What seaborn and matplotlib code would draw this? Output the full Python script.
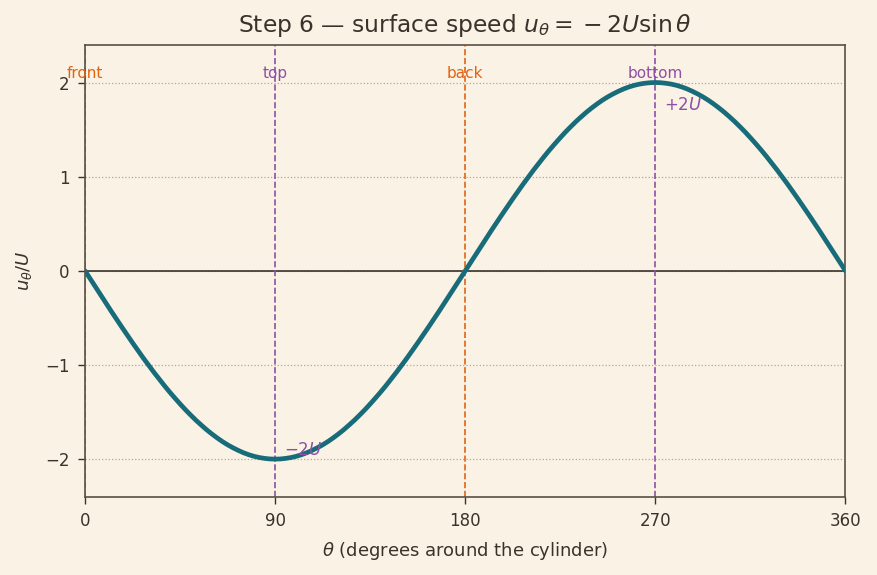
import numpy as np
import pandas as pd
import matplotlib
matplotlib.use("Agg")
import matplotlib.pyplot as plt
import seaborn as sns

# surface speed, every 2.5 degrees
theta = [i * 2.5 for i in range(145)]
quarter = [0.000, 0.087, 0.174, 0.261, 0.347, 0.433, 0.518, 0.601, 0.684,
           0.765, 0.845, 0.924, 1.000, 1.075, 1.147, 1.218, 1.286, 1.351,
           1.414, 1.475, 1.532, 1.587, 1.638, 1.687, 1.732, 1.774, 1.813,
           1.848, 1.879, 1.907, 1.932, 1.953, 1.970, 1.983, 1.992, 1.998,
           2.000]
u_over_U = ([-v for v in quarter] + [-v for v in quarter[-2::-1]]
            + quarter[1:] + quarter[-2::-1])

# reference positions on the cylinder
marker_theta = [0, 90, 180, 270]
marker_names = ["front", "top", "back", "bottom"]
marker_colors = ["#e06414", "#8e4fa6", "#e06414", "#8e4fa6"]

# extreme labels
extreme_theta = [90, 270]
extreme_vals = [-2, 2]
extreme_text = [r"$-2U$", r"$+2U$"]

bg = "#faf2e4"
ink = "#3b332b"
curve = "#186c7a"

sns.set_theme(style="white")
plt.rcParams.update({
    "figure.facecolor": bg, "axes.facecolor": bg, "savefig.facecolor": bg,
    "text.color": ink, "axes.labelcolor": ink, "xtick.color": ink,
    "ytick.color": ink, "axes.edgecolor": "#5a4f44",
})
plt.rcParams["font.family"] = ["DejaVu Sans"]

fig, ax = plt.subplots(figsize=(8.77, 5.75), dpi=100)

df = pd.DataFrame({"theta": theta, "u": u_over_U})
ax.axhline(0, color=ink, lw=1.2, zorder=1)
for t, n, c in zip(marker_theta, marker_names, marker_colors):
    ax.axvline(t, color=c, ls="--", lw=1.2, zorder=1)
    ax.text(t, 2.02, n, color=c, ha="center", va="bottom", fontsize=11)

sns.lineplot(data=df, x="theta", y="u", color=curve, lw=3.4, ax=ax, zorder=3)

for t, v, s in zip(extreme_theta, extreme_vals, extreme_text):
    ax.text(t + 4, v * 0.88 if v > 0 else v * 0.95, s, color="#8e4fa6",
            ha="left", va="center", fontsize=12)

ax.set_xlim(0, 360)
ax.set_ylim(-2.4, 2.4)
ax.set_xticks([0, 90, 180, 270, 360])
ax.set_yticks([-2, -1, 0, 1, 2])
ax.set_yticklabels(["\u22122", "\u22121", "0", "1", "2"])
ax.yaxis.grid(True, ls=":", color="#b0a898", lw=0.9)
ax.tick_params(axis="both", labelsize=12, length=5, width=1, pad=6,
               colors=ink, bottom=True, left=True)
for sp in ax.spines.values():
    sp.set_linewidth(1.2)

ax.set_xlabel(r"$\theta$ (degrees around the cylinder)", fontsize=13,
              labelpad=7)
ax.set_ylabel(r"$u_\theta/U$", fontsize=13, labelpad=8)
ax.set_title(r"Step 6 — surface speed $u_\theta = {}-2U\sin\theta$",
             fontsize=16.8, pad=9)

fig.subplots_adjust(left=0.097, right=0.964, top=0.922, bottom=0.136)
fig.savefig("out.png", dpi=100)
